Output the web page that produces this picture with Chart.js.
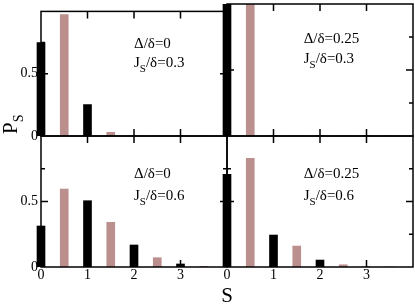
<!DOCTYPE html>
<html>
<head>
<meta charset="utf-8">
<script src="https://cdn.jsdelivr.net/npm/chart.js@4/dist/chart.umd.min.js"></script>
<style>
  html, body { margin: 0; padding: 0; background: #fff; }
  #wrap { position: relative; width: 415px; height: 305px; overflow: hidden; }
  #wrap canvas { position: absolute; left: 0; top: 0; }
</style>
</head>
<body>
<div id="wrap">
  <canvas id="c0" width="415" height="305"></canvas>
  <canvas id="c1" width="415" height="305"></canvas>
  <canvas id="c2" width="415" height="305"></canvas>
  <canvas id="c3" width="415" height="305"></canvas>
</div>
<script>
// ---- data ----
const sInteger = [0, 1, 2, 3];
const sHalf = [0.5, 1.5, 2.5, 3.5];

const topLeftBlack = [0.75, 0.252, 0, 0];
const topLeftPink = [0.975, 0.03, 0, 0];
const topRightBlack = [1.0, 0, 0, 0];
const topRightPink = [1.0, 0, 0, 0];
const botLeftBlack = [0.313, 0.506, 0.168, 0.023];
const botLeftPink = [0.595, 0.341, 0.071, 0.005];
const botRightBlack = [0.708, 0.244, 0.053, 0];
const botRightPink = [0.83, 0.16, 0.017, 0];

const xTickLabels = ['0', '1', '2', '3'];
const yTickLabels = { 0: '0', 0.5: '0.5' };
const xTickValues = [1, 2, 3];
const yMajorTicks = [0.5];
const yMinorTicks = [0.25, 0.75];

const panelLabels = [
  { delta: 'Δ/δ=0', j: '/δ=0.3' },
  { delta: 'Δ/δ=0.25', j: '/δ=0.3' },
  { delta: 'Δ/δ=0', j: '/δ=0.6' },
  { delta: 'Δ/δ=0.25', j: '/δ=0.6' }
];

// ---- styling ----
const PINK = '#bc8f8f';
const FONT = "'Liberation Serif', 'DejaVu Serif', serif";
Chart.defaults.font.family = FONT;
Chart.defaults.color = '#000';

const framePlugin = {
  id: 'frame',
  afterDatasetsDraw(chart, args, opts) {
    const { ctx, chartArea: a } = chart;
    const x = chart.scales.x, y = chart.scales.y;
    ctx.save();
    ctx.strokeStyle = '#000';
    ctx.lineWidth = 1.5;
    ctx.strokeRect(a.left, a.top, a.right - a.left, a.bottom - a.top);
    ctx.beginPath();
    xTickValues.forEach(v => {
      const px = x.getPixelForValue(v);
      ctx.moveTo(px, a.bottom); ctx.lineTo(px, a.bottom - 7);
      ctx.moveTo(px, a.top); ctx.lineTo(px, a.top + 7);
    });
    yMajorTicks.forEach(v => {
      const py = y.getPixelForValue(v);
      ctx.moveTo(a.left, py); ctx.lineTo(a.left + 7, py);
      ctx.moveTo(a.right, py); ctx.lineTo(a.right - 7, py);
    });
    yMinorTicks.forEach(v => {
      const py = y.getPixelForValue(v);
      ctx.moveTo(a.left, py); ctx.lineTo(a.left + 4, py);
      ctx.moveTo(a.right, py); ctx.lineTo(a.right - 4, py);
    });
    ctx.stroke();

    // annotation text
    const lab = opts.label;
    const tx = x.getPixelForValue(opts.textX);
    const ty1 = y.getPixelForValue(opts.textY1);
    const ty2 = y.getPixelForValue(opts.textY2);
    ctx.fillStyle = '#000';
    ctx.textBaseline = 'alphabetic';
    ctx.textAlign = 'left';
    ctx.font = '15px ' + FONT;
    ctx.fillText(lab.delta, tx, ty1);
    ctx.fillText('J', tx, ty2);
    let w = ctx.measureText('J').width;
    ctx.font = '11px ' + FONT;
    ctx.fillText('S', tx + w, ty2 + 5);
    w += ctx.measureText('S').width;
    ctx.font = '15px ' + FONT;
    ctx.fillText(lab.j, tx + w, ty2);

    if (opts.axisTitles) {
      // x title
      ctx.font = '21px ' + FONT;
      ctx.textAlign = 'center';
      ctx.fillText('S', 227, 302);
      // y title (rotated)
      ctx.save();
      ctx.translate(17, 134);
      ctx.rotate(-Math.PI / 2);
      ctx.textAlign = 'left';
      ctx.font = '21px ' + FONT;
      ctx.fillText('P', 0, 0);
      const pw = ctx.measureText('P').width;
      ctx.font = '14px ' + FONT;
      ctx.fillText('S', pw, 6);
      ctx.restore();
    }
    ctx.restore();
  }
};

function makePanel(id, black, pink, pos, label, textX, textY1, textY2, axisTitles) {
  const isLeft = pos.col === 0;
  const isTop = pos.row === 0;
  const padding = {
    left: isLeft ? 0 : 186,
    right: isLeft ? 188 : 2,
    top: isTop ? 4 : 136,
    bottom: isTop ? 169 : 0
  };
  const clip = { left: 6, right: 6, top: 0, bottom: 0 };
  new Chart(document.getElementById(id), {
    type: 'bar',
    data: {
      datasets: [
        {
          data: sInteger.map((s, i) => ({ x: s, y: black[i] })),
          backgroundColor: '#000',
          borderWidth: 0,
          barThickness: 8,
          grouped: false,
          clip
        },
        {
          data: sHalf.map((s, i) => ({ x: s, y: pink[i] })),
          backgroundColor: PINK,
          borderWidth: 0,
          barThickness: 8,
          grouped: false,
          clip
        }
      ]
    },
    options: {
      responsive: false,
      devicePixelRatio: 1,
      animation: false,
      events: [],
      layout: { padding },
      plugins: {
        legend: { display: false },
        tooltip: { enabled: false },
        frame: { label, textX, textY1, textY2, axisTitles }
      },
      scales: {
        x: {
          type: 'linear',
          min: 0, max: 4,
          offset: false,
          grid: { display: false, drawTicks: false },
          border: { display: false },
          ticks: {
            display: !isTop,
            stepSize: 1,
            padding: 0,
            autoSkip: false,
            maxRotation: 0,
            font: { size: 14, family: FONT },
            color: '#000',
            callback: v => (v < 4 ? xTickLabels[v] : '')
          },
          afterFit: s => { s.height = isTop ? 0 : 38; }
        },
        y: {
          type: 'linear',
          min: 0, max: 1,
          grid: { display: false, drawTicks: false },
          border: { display: false },
          ticks: {
            display: isLeft,
            stepSize: 0.5,
            padding: 3,
            font: { size: 14, family: FONT },
            color: '#000',
            callback: v => (yTickLabels[v] !== undefined ? yTickLabels[v] : '')
          },
          afterFit: s => { s.width = 41; }
        }
      }
    },
    plugins: [framePlugin]
  });
}

makePanel('c0', topLeftBlack, topLeftPink, { row: 0, col: 0 }, panelLabels[0], 2.0, 0.705, 0.553, false);
makePanel('c1', topRightBlack, topRightPink, { row: 0, col: 1 }, panelLabels[1], 1.65, 0.705, 0.553, false);
makePanel('c2', botLeftBlack, botLeftPink, { row: 1, col: 0 }, panelLabels[2], 2.0, 0.679, 0.511, true);
makePanel('c3', botRightBlack, botRightPink, { row: 1, col: 1 }, panelLabels[3], 1.65, 0.679, 0.511, false);
</script>
</body>
</html>
